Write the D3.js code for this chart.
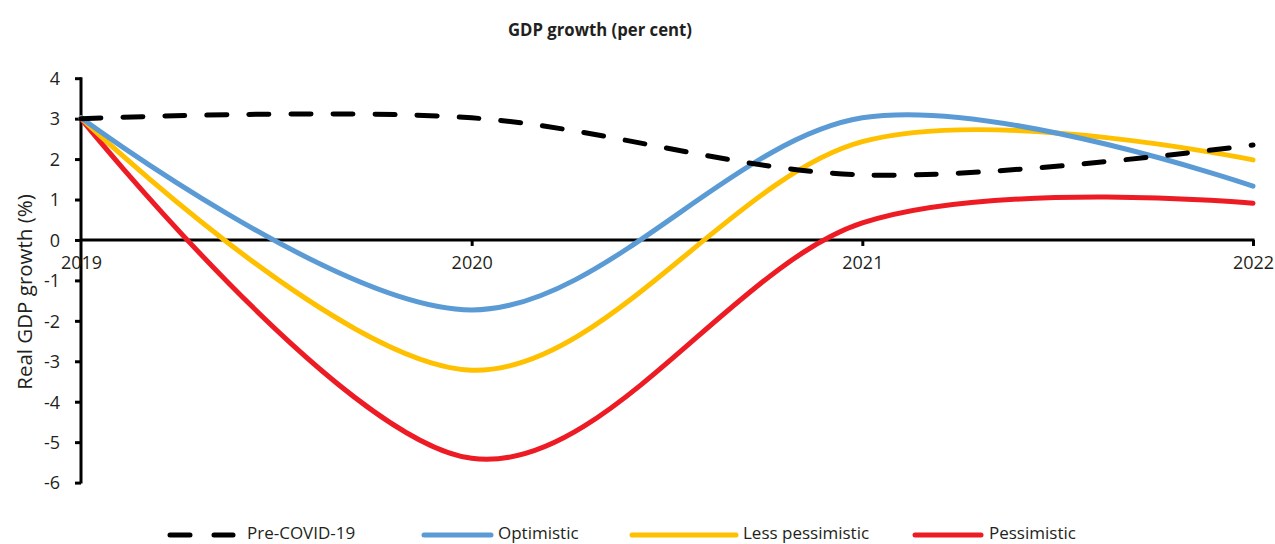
<!DOCTYPE html>
<html>
<head>
<meta charset="utf-8">
<script src="https://cdn.jsdelivr.net/npm/d3@7"></script>
<style>
  html, body { margin: 0; padding: 0; background: #fff; }
  svg { display: block; }
  text { fill: #231F20; }
</style>
</head>
<body>
<svg id="chart" width="1275" height="544"></svg>
<script>
// ---- data ----
const years = [2019, 2020, 2021, 2022];
const preCovid = [3.0, 3.02, 1.61, 2.35];
const optimistic = [3.02, -1.73, 3.02, 1.33];
const lessPessimistic = [3.02, -3.22, 2.43, 1.98];
const pessimistic = [3.0, -5.4, 0.42, 0.91];
const yTicks = [4, 3, 2, 1, 0, -1, -2, -3, -4, -5, -6];
const seriesNames = ["Pre-COVID-19", "Optimistic", "Less pessimistic", "Pessimistic"];
const seriesColors = ["#000000", "#5B9BD5", "#FFC000", "#ED1C24"];
const titleText = "GDP growth (per cent)";
const yTitle = "Real GDP growth (%)";

const svg = d3.select("#chart");
const labelFont = "'Open Sans', 'Noto Sans', sans-serif";

const x = d3.scaleLinear().domain([2019, 2022]).range([81, 1253]);
const y = d3.scaleLinear().domain([-6, 4]).range([482.6, 78.2]);

// title (condensed bold look)
svg.append("text")
  .attr("x", 508).attr("y", 36)
  .attr("textLength", 184)
  .attr("lengthAdjust", "spacingAndGlyphs")
  .style("font-family", labelFont)
  .style("font-weight", "bold")
  .style("font-size", "18px")
  .text(titleText);

const fmt = d => String(d);

// y axis
const yAxis = d3.axisLeft(y).tickValues(yTicks).tickSize(6).tickPadding(15).tickFormat(fmt);
const gy = svg.append("g").attr("transform", "translate(81,0)").call(yAxis);
gy.select(".domain").attr("stroke", "#000").attr("stroke-width", 3).attr("d", `M0,${y(4) - 1}V${y(-6) + 1}`);
gy.selectAll(".tick line").attr("stroke", "#000").attr("stroke-width", 3);
gy.selectAll(".tick text")
  .style("font-family", labelFont).style("font-size", "18px").attr("fill", "#231F20")
  .attr("dy", "0.35em");

// x axis at zero
const xAxis = d3.axisBottom(x).tickValues(years).tickSize(6).tickPadding(10).tickFormat(fmt);
const gx = svg.append("g").attr("transform", `translate(0,${y(0)})`).call(xAxis);
gx.select(".domain").attr("stroke", "#000").attr("stroke-width", 3).attr("d", `M${x(2019)},0H${x(2022) + 1.5}`);
gx.selectAll(".tick line").attr("stroke", "#000").attr("stroke-width", 3)
  .attr("opacity", d => d === 2019 ? 0 : 1);
gx.selectAll(".tick text")
  .style("font-family", labelFont).style("font-size", "18px").attr("fill", "#231F20");

// y title
svg.append("text")
  .attr("transform", `translate(32,292) rotate(-90)`)
  .attr("text-anchor", "middle")
  .style("font-family", labelFont).style("font-size", "20.5px")
  .text(yTitle);

// lines
const line = d3.line()
  .x((d, i) => x(years[i]))
  .y(d => y(d))
  .curve(d3.curveCardinal.tension(0));

const allSeries = [preCovid, optimistic, lessPessimistic, pessimistic];
const order = [3, 2, 1, 0];
order.forEach(i => {
  const p = svg.append("path")
    .datum(allSeries[i])
    .attr("d", line)
    .attr("fill", "none")
    .attr("stroke", seriesColors[i])
    .attr("stroke-width", 5)
    .attr("stroke-linecap", "round");
  if (i === 0) p.attr("stroke-dasharray", "20,22");
});

// legend
const legendY = 535;
const legendItems = [
  { x1: 168, x2: 235, tx: 247 },
  { x1: 422, x2: 493, tx: 498 },
  { x1: 630, x2: 738, tx: 743 },
  { x1: 913, x2: 983, tx: 989 }
];
legendItems.forEach((it, i) => {
  const l = svg.append("line")
    .attr("x1", it.x1 + 2).attr("x2", it.x2 - 2)
    .attr("y1", legendY).attr("y2", legendY)
    .attr("stroke", seriesColors[i]).attr("stroke-width", 5)
    .attr("stroke-linecap", "round");
  if (i === 0) l.attr("stroke-dasharray", "20,24");
  svg.append("text")
    .attr("x", it.tx).attr("y", 539)
    .style("font-family", labelFont).style("font-size", "17px")
    .text(seriesNames[i]);
});
</script>
</body>
</html>
